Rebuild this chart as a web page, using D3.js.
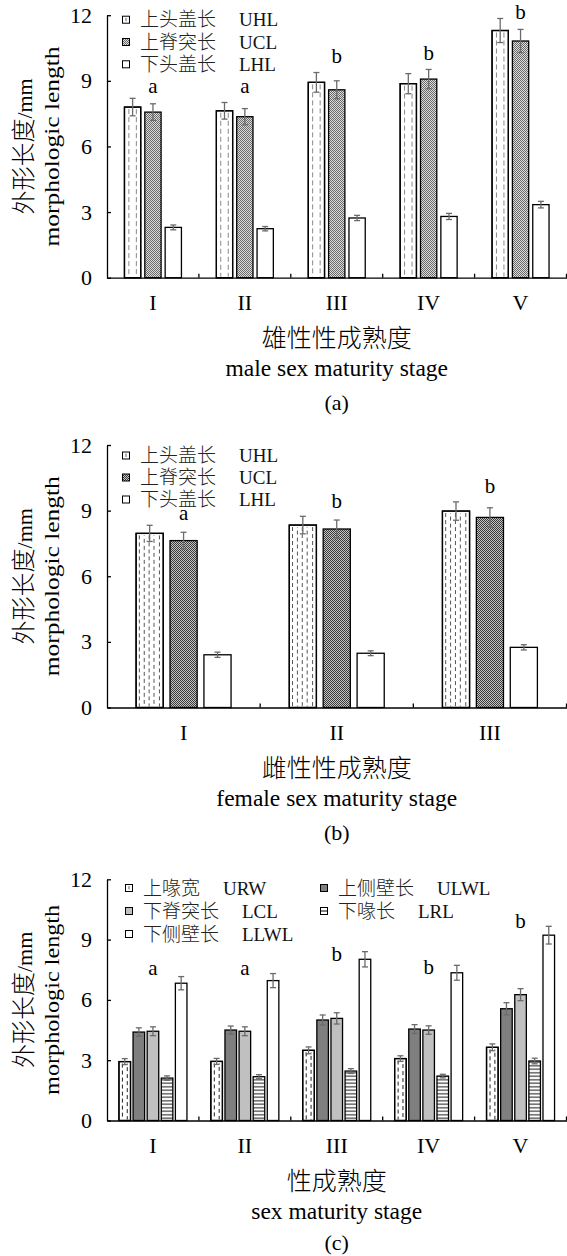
<!DOCTYPE html>
<html><head><meta charset="utf-8">
<script src="https://cdn.jsdelivr.net/npm/d3@7"></script>
<style>body{margin:0;background:#fff} svg{display:block;opacity:0.999}</style>
</head><body>
<script>
// ---------- DATA ----------
// (a) male
const stagesA = ["I","II","III","IV","V"];
const namesA_cn = ["上头盖长","上脊突长","下头盖长"];
const namesA_en = ["UHL","UCL","LHL"];
const uhlA = [7.80, 7.63, 8.93, 8.87, 11.30];
const uhlA_err = [0.40, 0.38, 0.45, 0.46, 0.55];
const uclA = [7.57, 7.36, 8.59, 9.08, 10.82];
const uclA_err = [0.38, 0.37, 0.41, 0.44, 0.53];
const lhlA = [2.30, 2.24, 2.73, 2.80, 3.34];
const lhlA_err = [0.11, 0.10, 0.12, 0.14, 0.15];
const lettersA = ["a","a","b","b","b"];
const letterAtA = [8.46, 8.46, 9.83, 9.97, 11.83];

// (b) female
const stagesB = ["I","II","III"];
const uhlB = [7.96, 8.34, 8.98];
const uhlB_err = [0.37, 0.40, 0.42];
const uclB = [7.63, 8.16, 8.69];
const uclB_err = [0.38, 0.41, 0.44];
const lhlB = [2.41, 2.48, 2.75];
const lhlB_err = [0.12, 0.11, 0.12];
const lettersB = ["a","b","b"];
const letterAtB = [8.55, 9.10, 9.79];

// (c) both
const stagesC = ["I","II","III","IV","V"];
const namesC_cn = ["上喙宽","上侧壁长","下脊突长","下喙长","下侧壁长"];
const namesC_en = ["URW","ULWL","LCL","LRL","LLWL"];
const urwC = [2.93, 2.94, 3.49, 3.08, 3.64];
const urwC_err = [0.15, 0.15, 0.17, 0.14, 0.17];
const ulwlC = [4.40, 4.50, 5.00, 4.55, 5.56];
const ulwlC_err = [0.21, 0.20, 0.25, 0.22, 0.30];
const lclC = [4.44, 4.44, 5.08, 4.50, 6.26];
const lclC_err = [0.22, 0.22, 0.28, 0.21, 0.30];
const lrlC = [2.11, 2.18, 2.46, 2.21, 2.96];
const lrlC_err = [0.11, 0.10, 0.12, 0.09, 0.14];
const llwlC = [6.83, 6.96, 8.02, 7.35, 9.22];
const llwlC_err = [0.33, 0.35, 0.38, 0.37, 0.44];
const lettersC = ["a","a","b","b","b"];
const letterAtC = [7.25, 7.25, 7.95, 7.30, 9.60];

const yTicks = [0, 3, 6, 9, 12];

// ---------- DRAW ----------
const W = 567, H = 1256;
const SERIF = "'Liberation Serif','Times New Roman',serif";
const CJK = "'Noto Sans CJK SC','Noto Sans CJK JP',sans-serif";
const svg = d3.select("body").append("svg").attr("width", W).attr("height", H);
svg.append("rect").attr("width", W).attr("height", H).attr("fill", "#fff");
const defs = svg.append("defs");

function checker(id, light, dark) {
  const p = defs.append("pattern").attr("id", id).attr("patternUnits", "userSpaceOnUse")
    .attr("width", 2).attr("height", 2);
  p.append("rect").attr("width", 2).attr("height", 2).attr("fill", light);
  p.append("rect").attr("width", 1).attr("height", 1).attr("fill", dark);
  p.append("rect").attr("x", 1).attr("y", 1).attr("width", 1).attr("height", 1).attr("fill", dark);
}
checker("dotA", "#dcdcdc", "#6a6a6a");
checker("dotB", "#c4c4c4", "#3a3a3a");
const hp = defs.append("pattern").attr("id", "hlines").attr("patternUnits", "userSpaceOnUse")
  .attr("width", 6).attr("height", 3.5);
hp.append("rect").attr("width", 6).attr("height", 3.5).attr("fill", "#fff");
hp.append("line").attr("x1", 0).attr("x2", 6).attr("y1", 1.75).attr("y2", 1.75)
  .attr("stroke", "#111").attr("stroke-width", 1);

function drawPanel(cfg) {
  const g = svg.append("g");
  const left = 107, right = 566.5;
  const y = d3.scaleLinear().domain([0, 12]).range([cfg.bottom, cfg.top]);
  const x0 = d3.scaleBand().domain(cfg.stages).range([left, right]).padding(0);
  const bw = x0.bandwidth();
  const gw = bw * cfg.groupFrac;
  const x1 = d3.scaleBand().domain(cfg.series.map(s => s.key))
    .range([(bw - gw) / 2, (bw + gw) / 2]).paddingInner(cfg.innerPad).paddingOuter(0);
  const w = x1.bandwidth();

  // bars
  cfg.series.forEach(s => {
    s.values.forEach((v, i) => {
      const bx = x0(cfg.stages[i]) + x1(s.key);
      const by = y(v), bh = y(0) - y(v);
      g.append("rect").attr("x", bx).attr("y", by).attr("width", w).attr("height", bh)
        .attr("fill", s.fill).attr("stroke", "#000").attr("stroke-width", 1.3);
      if (s.dashes) {
        s.dashes.fracs.forEach((f, k) => {
          g.append("line").attr("x1", bx + w * f).attr("x2", bx + w * f)
            .attr("y1", by + 2).attr("y2", y(0) - 1)
            .attr("stroke", s.dashes.color).attr("stroke-width", 1)
            .attr("stroke-dasharray", s.dashes.dash)
            .attr("stroke-dashoffset", k % 2 ? s.dashes.shift : 0);
        });
        g.append("rect").attr("x", bx).attr("y", by).attr("width", w).attr("height", bh)
          .attr("fill", "none").attr("stroke", "#000").attr("stroke-width", 1.3);
      }
      // error bar
      const e = s.errs[i], cx = bx + w / 2;
      const eg = g.append("g").attr("stroke", "#6b6b6b").attr("stroke-width", 1.3);
      eg.append("line").attr("x1", cx).attr("x2", cx).attr("y1", y(v - e)).attr("y2", y(v + e));
      eg.append("line").attr("x1", cx - 3).attr("x2", cx + 3).attr("y1", y(v - e)).attr("y2", y(v - e));
      eg.append("line").attr("x1", cx - 3).attr("x2", cx + 3).attr("y1", y(v + e)).attr("y2", y(v + e));
    });
  });

  // letters
  cfg.letters.forEach((t, i) => {
    g.append("text").attr("x", x0(cfg.stages[i]) + bw / 2).attr("y", y(cfg.letterAt[i]))
      .attr("text-anchor", "middle").attr("font-family", SERIF).attr("font-size", 21).text(t);
  });

  // y axis
  const ya = g.append("g").attr("transform", `translate(${left},0)`)
    .call(d3.axisLeft(y).tickValues(yTicks).tickSizeInner(-4).tickSizeOuter(0).tickPadding(15));
  ya.selectAll("path,line").attr("stroke", "#000").attr("stroke-width", 1.3);
  ya.selectAll("text").attr("font-family", SERIF).attr("font-size", 22).attr("fill", "#000");

  // x axis
  const xa = g.append("g").attr("transform", `translate(0,${cfg.bottom})`)
    .call(d3.axisBottom(x0).tickSize(0).tickPadding(17));
  xa.select("path").attr("stroke", "#000").attr("stroke-width", 1.3);
  xa.selectAll("text").attr("font-family", SERIF).attr("font-size", 22).attr("fill", "#000");
  cfg.stages.forEach(c => {
    const tx = x0(c) + bw;
    g.append("line").attr("x1", tx).attr("x2", tx).attr("y1", cfg.bottom).attr("y2", cfg.bottom - 4)
      .attr("stroke", "#000").attr("stroke-width", 1.3);
  });

  // y label
  const cy = (cfg.top + cfg.bottom) / 2;
  const yl1 = g.append("text").attr("transform", `translate(32,${cy}) rotate(-90)`)
    .attr("text-anchor", "middle");
  yl1.append("tspan").attr("font-family", CJK).attr("font-weight", 300).attr("font-size", 24).text("外形长度");
  yl1.append("tspan").attr("font-family", SERIF).attr("font-size", 22).text("/mm");
  g.append("text").attr("transform", `translate(59,${cy}) rotate(-90)`)
    .attr("text-anchor", "middle").attr("font-family", SERIF).attr("font-size", 22)
    .attr("textLength", cfg.ylabLen).attr("lengthAdjust", "spacingAndGlyphs")
    .text("morphologic length");

  // titles
  const mx = (left + right) / 2;
  g.append("text").attr("x", mx).attr("y", cfg.bottom + 69).attr("text-anchor", "middle")
    .attr("font-family", CJK).attr("font-weight", 300).attr("font-size", 25).text(cfg.cnTitle);
  g.append("text").attr("x", mx).attr("y", cfg.bottom + 98).attr("text-anchor", "middle")
    .attr("font-family", SERIF).attr("font-size", 23.5).text(cfg.enTitle);
  g.append("text").attr("x", mx).attr("y", cfg.bottom + cfg.tagOff).attr("text-anchor", "middle")
    .attr("font-family", SERIF).attr("font-size", 22).text(cfg.tag);

  // legend
  cfg.series.forEach((s, i) => {
    const col = i % cfg.legCols, row = Math.floor(i / cfg.legCols);
    const lx = cfg.legX[col], ly = cfg.top + cfg.legY0 + row * cfg.legDy;
    const lg = g.append("g");
    lg.append("rect").attr("x", lx - 3.5).attr("y", ly - 3.5).attr("width", 7).attr("height", 7)
      .attr("fill", s.legFill || s.fill).attr("stroke", "#000").attr("stroke-width", 1);
    if (s.legMark === "v") lg.append("line").attr("x1", lx).attr("x2", lx).attr("y1", ly - 2).attr("y2", ly + 1.5)
      .attr("stroke", "#666").attr("stroke-width", 1);
    if (s.legMark === "h") lg.append("line").attr("x1", lx - 3).attr("x2", lx + 3).attr("y1", ly).attr("y2", ly)
      .attr("stroke", "#000").attr("stroke-width", 1);
    const t = lg.append("text").attr("x", lx + 14).attr("y", ly + 6.5);
    t.append("tspan").attr("font-family", CJK).attr("font-weight", 300).attr("font-size", 19)
      .attr("fill", "#222").text(s.cn);
    t.append("tspan").attr("dx", 23).attr("font-family", SERIF).attr("font-size", 19)
      .attr("fill", "#111").text(s.en);
  });
}

drawPanel({
  top: 15.2, bottom: 277.7, stages: stagesA, groupFrac: 0.62, innerPad: 0.2, ylabLen: 200, tagOff: 132,
  series: [
    {key: "UHL", cn: namesA_cn[0], en: namesA_en[0], values: uhlA, errs: uhlA_err, fill: "#fff",
     dashes: {fracs: [0.27, 0.73], color: "#8a8a8a", dash: "5,3", shift: 0}, legMark: "v"},
    {key: "UCL", cn: namesA_cn[1], en: namesA_en[1], values: uclA, errs: uclA_err, fill: "url(#dotA)"},
    {key: "LHL", cn: namesA_cn[2], en: namesA_en[2], values: lhlA, errs: lhlA_err, fill: "#fff"}
  ],
  letters: lettersA, letterAt: letterAtA,
  cnTitle: "雄性性成熟度", enTitle: "male sex maturity stage", tag: "(a)",
  legCols: 1, legX: [126], legY0: 4.5, legDy: 22.3
});

drawPanel({
  top: 445, bottom: 707.5, stages: stagesB, groupFrac: 0.62, innerPad: 0.2, ylabLen: 200, tagOff: 132,
  series: [
    {key: "UHL", cn: namesA_cn[0], en: namesA_en[0], values: uhlB, errs: uhlB_err, fill: "#fff",
     dashes: {fracs: [0.12, 0.3, 0.48, 0.66, 0.86], color: "#555", dash: "4,3", shift: 3.5}, legMark: "v"},
    {key: "UCL", cn: namesA_cn[1], en: namesA_en[1], values: uclB, errs: uclB_err, fill: "url(#dotB)"},
    {key: "LHL", cn: namesA_cn[2], en: namesA_en[2], values: lhlB, errs: lhlB_err, fill: "#fff"}
  ],
  letters: lettersB, letterAt: letterAtB,
  cnTitle: "雌性性成熟度", enTitle: "female sex maturity stage", tag: "(b)",
  legCols: 1, legX: [126], legY0: 10.5, legDy: 22
});

drawPanel({
  top: 879.3, bottom: 1120.5, stages: stagesC, groupFrac: 0.74, innerPad: 0.18, ylabLen: 190, tagOff: 129,
  series: [
    {key: "URW", cn: namesC_cn[0], en: namesC_en[0], values: urwC, errs: urwC_err, fill: "#fff",
     dashes: {fracs: [0.3, 0.72], color: "#222", dash: "4,3", shift: 3.5}, legMark: "v"},
    {key: "ULWL", cn: namesC_cn[1], en: namesC_en[1], values: ulwlC, errs: ulwlC_err, fill: "#7f7f7f"},
    {key: "LCL", cn: namesC_cn[2], en: namesC_en[2], values: lclC, errs: lclC_err, fill: "#c0c0c0"},
    {key: "LRL", cn: namesC_cn[3], en: namesC_en[3], values: lrlC, errs: lrlC_err, fill: "url(#hlines)",
     legFill: "#fff", legMark: "h"},
    {key: "LLWL", cn: namesC_cn[4], en: namesC_en[4], values: llwlC, errs: llwlC_err, fill: "#fff"}
  ],
  letters: lettersC, letterAt: letterAtC,
  cnTitle: "性成熟度", enTitle: "sex maturity stage", tag: "(c)",
  legCols: 2, legX: [129, 324], legY0: 8.7, legDy: 23
});
</script>
</body></html>
